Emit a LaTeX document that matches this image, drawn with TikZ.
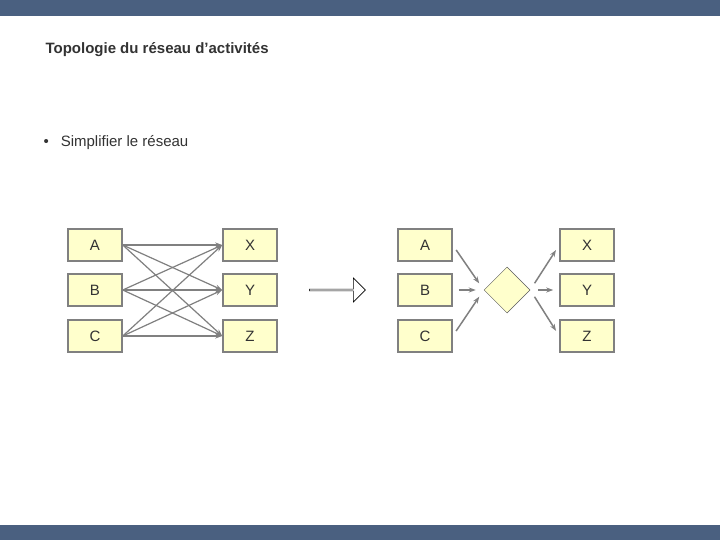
\documentclass[tikz,border=0pt]{standalone}
\usepackage{fontspec}
\setmainfont{Liberation Sans}
\usetikzlibrary{shapes.geometric,shapes.arrows,arrows.meta}
\definecolor{bar}{HTML}{4A6080}
\definecolor{boxf}{HTML}{FFFFCC}
\definecolor{edge}{HTML}{808080}
\definecolor{txt}{HTML}{333333}
\begin{document}
\begin{tikzpicture}[x=1pt,y=-1pt,
  bx/.style={draw=edge,line width=1.5pt,fill=boxf,minimum width=54pt,minimum height=32pt,inner sep=0pt,font=\fontsize{15}{15}\selectfont,text=txt},
  ar/.style={draw=edge,line width=1.5pt,-{Stealth[length=7pt,width=5pt]}}]
\useasboundingbox (0,0) rectangle (720,540);
\fill[white] (0,0) rectangle (720,540);
\fill[bar] (0,0) rectangle (720,16);
\fill[bar] (0,525) rectangle (720,540);
\node[anchor=west,text=txt,font=\bfseries\fontsize{15}{15}\selectfont] (t) at (42,50) {Topologie du réseau d’activités};
\node[anchor=west,text=txt,font=\fontsize{15}{15}\selectfont] (b) at (40,143) {•\hspace{12pt}Simplifier le réseau};
\node[bx] (A) at (95,245) {A};
\node[bx] (B) at (95,290) {B};
\node[bx] (C) at (95,336) {C};
\node[bx] (X) at (250,245) {X};
\node[bx] (Y) at (250,290) {Y};
\node[bx] (Z) at (250,336) {Z};
\foreach \s in {A,B,C}{\foreach \t in {X,Y,Z}{\draw[ar,line width=1.2pt] (\s.east) -- (\t.west);}}
\node[single arrow,draw=black,line width=0.6pt,fill=white,minimum height=56pt,minimum width=24pt,single arrow head extend=4pt,inner sep=0pt] (big) at (337,290) {};
\node[bx] (A2) at (425,245) {A};
\node[bx] (B2) at (425,290) {B};
\node[bx] (C2) at (425,336) {C};
\node[bx] (X2) at (587,245) {X};
\node[bx] (Y2) at (587,290) {Y};
\node[bx] (Z2) at (587,336) {Z};
\node[diamond,draw=edge!70!black,line width=0.5pt,fill=boxf,minimum width=46pt,minimum height=46pt,inner sep=0pt] (D) at (507,290) {};
\foreach \s in {A2,B2,C2}{\draw[ar,shorten <=6pt,shorten >=8pt] (\s.east) -- (D.west);}
\foreach \t in {X2,Y2,Z2}{\draw[ar,shorten <=8pt,shorten >=6pt] (D.east) -- (\t.west);}
\end{tikzpicture}
\end{document}
